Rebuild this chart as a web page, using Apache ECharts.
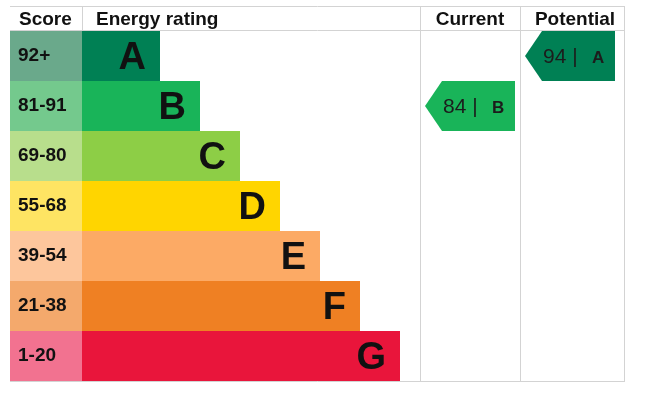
<!DOCTYPE html>
<html><head><meta charset="utf-8">
<script src="https://cdn.jsdelivr.net/npm/echarts@6/dist/echarts.min.js"></script>
<style>html,body{margin:0;padding:0;background:#fff}#c{width:659px;height:396px}</style>
</head><body><div id="c"></div>
<script>
// ---- data ----
var bands = ['A','B','C','D','E','F','G'];
var scoreLabels = ['92+','81-91','69-80','55-68','39-54','21-38','1-20'];
var bandBarLengths = [78,118,158,198,238,278,318];
var scoreCellWidth = [72,72,72,72,72,72,72];
var bandColors = ['#008054','#19b459','#8dce46','#ffd500','#fcaa65','#ef8023','#e9153b'];
var scoreColors = ['#6aa98b','#74c98d','#b8de8c','#fee463','#fdc69c','#f4a96c','#f27290'];
var currentScore = 84, currentBand = 'B';
var potentialScore = 94, potentialBand = 'A';
var headers = ['Score','Energy rating','Current','Potential'];

var chart = echarts.init(document.getElementById('c'), null, {renderer:'canvas'});
var FONT = '"Liberation Sans", Arial, sans-serif';
var lineCol = '#d3d3d3';

function arrowSeries(name, score, band, colStart) {
  var idx = bands.indexOf(band);
  return {
    type: 'custom', name: name, z: 5,
    data: [[colStart, idx, score]],
    renderItem: function (params, api) {
      var x0 = api.value(0), yi = api.value(1);
      var c = api.coord([x0, yi]);
      var h = api.size([0, 1])[1];
      var left = api.coord([x0 + 5, yi])[0];
      var right = api.coord([x0 + 95, yi])[0];
      var top = c[1] - h / 2, bot = c[1] + h / 2;
      var notch = 17;
      return {
        type: 'group',
        children: [
          { type: 'polygon', shape: { points: [[left, c[1]], [left + notch, top], [right, top], [right, bot], [left + notch, bot]] },
            style: { fill: bandColors[idx] } },
          { type: 'text', style: { x: left + 18, y: c[1] + 1, text: score + ' |', font: '21px ' + FONT, fill: '#1c1c1c', textAlign: 'left', textVerticalAlign: 'middle' } },
          { type: 'text', style: { x: left + 67, y: c[1] + 2, text: band, font: 'bold 17px ' + FONT, fill: '#1c1c1c', textAlign: 'left', textVerticalAlign: 'middle' } }
        ]
      };
    }
  };
}

var gLines = [
  [10, 6.5, 625, 6.5], [10, 30.5, 625, 30.5], [10, 381.5, 625, 381.5],
  [82.5, 6, 82.5, 31], [420.5, 6, 420.5, 382], [520.5, 6, 520.5, 382], [624.5, 6, 624.5, 382]
].map(function (l) {
  return { type: 'line', shape: { x1: l[0], y1: l[1], x2: l[2], y2: l[3] }, style: { stroke: lineCol, lineWidth: 1 }, z: 1 };
});
var hdrFont = 'bold 19px ' + FONT;
var gTexts = [
  { type: 'text', style: { x: 19, y: 20, text: headers[0], font: hdrFont, fill: '#111', textAlign: 'left', textVerticalAlign: 'middle' } },
  { type: 'text', style: { x: 96, y: 20, text: headers[1], font: hdrFont, fill: '#111', textAlign: 'left', textVerticalAlign: 'middle' } },
  { type: 'text', style: { x: 470, y: 20, text: headers[2], font: hdrFont, fill: '#111', textAlign: 'center', textVerticalAlign: 'middle' } },
  { type: 'text', style: { x: 575, y: 20, text: headers[3], font: hdrFont, fill: '#111', textAlign: 'center', textVerticalAlign: 'middle' } }
];

chart.setOption({
  animation: false,
  grid: { left: 10, top: 31, width: 615, height: 350, containLabel: false },
  xAxis: { type: 'value', min: 0, max: 615, show: false },
  yAxis: { type: 'category', data: bands, inverse: true, show: false },
  graphic: gLines.concat(gTexts),
  series: [
    { type: 'bar', stack: 's', barWidth: '100%', barCategoryGap: 0,
      data: scoreCellWidth.map(function (v, i) { return { value: v, itemStyle: { color: scoreColors[i] } }; }),
      label: { show: true, position: 'insideLeft', distance: 8, formatter: function (p) { return scoreLabels[p.dataIndex]; },
               fontWeight: 'bold', fontSize: 19, fontFamily: FONT, color: '#111' } },
    { type: 'bar', stack: 's', barWidth: '100%', barCategoryGap: 0,
      data: bandBarLengths.map(function (v, i) { return { value: v, itemStyle: { color: bandColors[i] } }; }),
      label: { show: true, position: 'insideRight', distance: 14, formatter: function (p) { return bands[p.dataIndex]; },
               fontWeight: 'bold', fontSize: 38, fontFamily: FONT, color: '#111', offset: [0, 3] } },
    arrowSeries('Current', currentScore, currentBand, 410),
    arrowSeries('Potential', potentialScore, potentialBand, 510)
  ]
});
</script></body></html>
